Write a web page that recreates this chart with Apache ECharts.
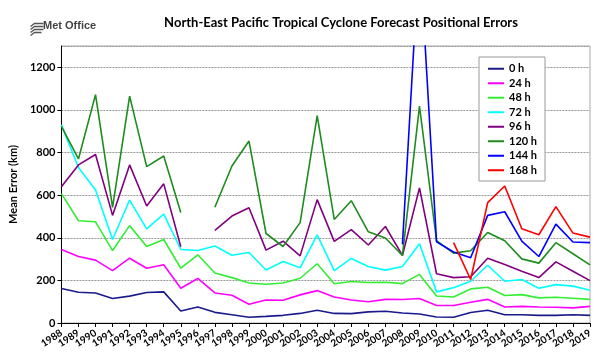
<!DOCTYPE html>
<html>
<head>
<meta charset="utf-8">
<script src="https://cdn.jsdelivr.net/npm/echarts@6/dist/echarts.min.js"></script>
<style>html,body{margin:0;padding:0;background:#fff;}#c{width:600px;height:360px;}</style>
</head>
<body>
<div id="c"></div>
<script>
var years = ['1988','1989','1990','1991','1992','1993','1994','1995','1996','1997','1998','1999','2000','2001','2002','2003','2004','2005','2006','2007','2008','2009','2010','2011','2012','2013','2014','2015','2016','2017','2018','2019'];
var seriesNames = ['0 h','24 h','48 h','72 h','96 h','120 h','144 h','168 h'];
var h0 = [162,144,141,115,126,143,146,56,75,50,39,27,31,36,45,60,45,44,52,55,47,42,28,27,49,60,39,39,36,36,39,36];
var h24 = [345,312,295,246,304,257,273,163,209,141,130,88,108,107,132,152,122,108,100,111,110,115,82,82,97,111,75,78,75,74,71,78];
var h48 = [607,480,475,340,457,359,392,257,320,235,213,188,182,188,210,278,184,195,190,191,185,228,127,122,160,168,129,133,118,121,116,111];
var h72 = [930,730,624,392,577,442,511,345,340,361,318,331,249,289,259,414,246,303,265,248,265,372,146,166,196,271,196,204,163,180,173,154];
var h96 = [639,742,791,505,742,549,653,358,null,435,502,541,342,384,315,579,383,438,366,453,317,634,231,213,217,304,275,243,213,287,243,199];
var h120 = [923,770,1072,543,1065,734,784,519,null,543,737,854,420,359,471,973,486,574,428,399,317,1018,386,328,339,425,386,301,281,377,325,273];
var h144 = [null,null,null,null,null,null,null,null,null,null,null,null,null,null,null,null,null,null,null,null,369,1760,381,333,306,505,522,384,312,464,380,377];
var h168 = [null,null,null,null,null,null,null,null,null,null,null,null,null,null,null,null,null,null,null,null,null,null,null,377,204,565,643,442,414,546,422,403];
var yTicks = [0,200,400,600,800,1000,1200];

var colors = ['#1a1a8c','#ff00ff','#33ee33','#00ffff','#800080','#1e8c1e','#0000ff','#ff0000'];
var allData = [h0,h24,h48,h72,h96,h120,h144,h168];

var chart = echarts.init(document.getElementById('c'), null, {renderer:'canvas'});
var series = allData.map(function(d,i){
  return {
    name: seriesNames[i], type:'line', data:d, symbol:'none', showSymbol:false,
    connectNulls:false, clip:true,
    lineStyle:{color:colors[i], width:1.6}, itemStyle:{color:colors[i]},
    emphasis:{disabled:true}, animation:false
  };
});

chart.setOption({
  animation:false,
  backgroundColor:'#fff',
  title:{
    text:'North-East Pacific Tropical Cyclone Forecast Positional Errors',
    left:336, top:11, textAlign:'center',
    textStyle:{fontFamily:'Lato', fontWeight:'bold', fontSize:13, color:'#000'}
  },
  graphic:[
    {type:'group', left:28, top:21, children:[
      {type:'polyline', shape:{points:[[0,3],[4,0],[13,0]]}, style:{stroke:'#555', lineWidth:1.3, fill:null}},
      {type:'polyline', shape:{points:[[0,6],[4,3],[13,3]]}, style:{stroke:'#555', lineWidth:1.3, fill:null}},
      {type:'polyline', shape:{points:[[0,9],[4,6],[13,6]]}, style:{stroke:'#555', lineWidth:1.3, fill:null}},
      {type:'polyline', shape:{points:[[0,12],[4,9],[11,9]]}, style:{stroke:'#555', lineWidth:1.3, fill:null}}
    ]},
    {type:'text', left:43, top:20, style:{text:'Met Office', font:'bold 11px "Liberation Sans"', fill:'#444'}}
  ],
  legend:{
    data:seriesNames, orient:'vertical', left:479, top:57,
    padding:[5,8,4,9], itemGap:1, itemWidth:16, itemHeight:2,
    icon:'rect',
    backgroundColor:'#fff', borderColor:'#999', borderWidth:1,
    textStyle:{fontFamily:'Lato', fontWeight:'bold', fontSize:11, color:'#000', lineHeight:13.5},
    selectedMode:false
  },
  grid:{left:60, right:10, top:46, bottom:37, show:true, borderColor:'#aaa', borderWidth:1, backgroundColor:'transparent'},
  xAxis:{
    type:'category', data:years, boundaryGap:false,
    axisLine:{lineStyle:{color:'#000', width:1}},
    axisTick:{show:true, length:4, inside:false, lineStyle:{color:'#000'}, alignWithLabel:true},
    axisLabel:{interval:0, rotate:33, margin:9, fontFamily:'Lato', fontWeight:'bold', fontSize:10, color:'#000'},
    splitLine:{show:false}
  },
  yAxis:{
    type:'value', min:0, max:1300, interval:200,
    name:'Mean Error (km)', nameLocation:'middle', nameGap:38, nameRotate:90,
    nameTextStyle:{fontFamily:'Lato', fontWeight:'bold', fontSize:11, color:'#000'},
    axisLine:{show:true, lineStyle:{color:'#000', width:1}},
    axisTick:{show:true, length:4, lineStyle:{color:'#000'}},
    axisLabel:{showMaxLabel:false, margin:6, fontFamily:'Lato', fontWeight:'bold', fontSize:11, color:'#000',
      formatter:function(v){ return yTicks.indexOf(v) >= 0 ? String(v) : ''; }},
    splitLine:{show:true, lineStyle:{color:'#999', type:[2,1], width:1}}
  },
  series: series
});
</script>
</body>
</html>
